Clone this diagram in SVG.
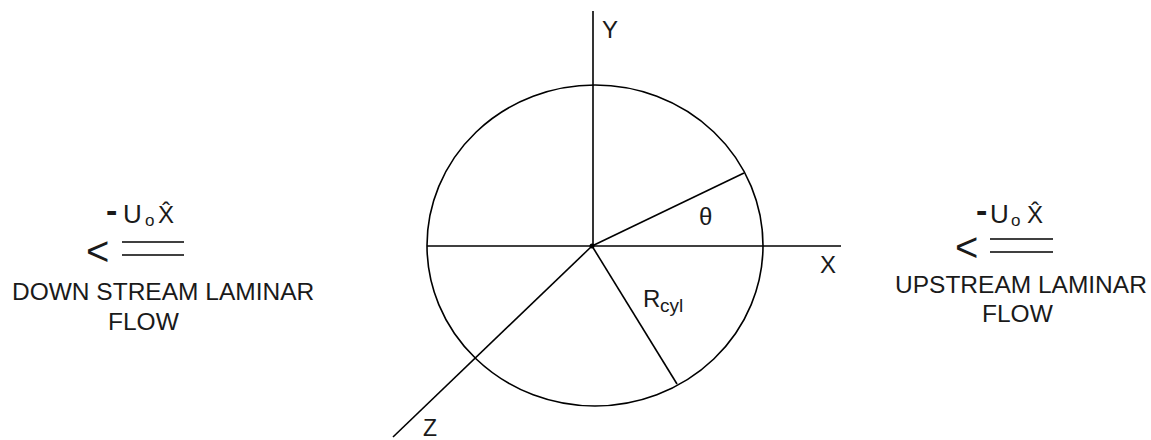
<svg xmlns="http://www.w3.org/2000/svg" width="1151" height="440" viewBox="0 0 1151 440">
<style>
.ln{stroke:#000;stroke-width:1.6;fill:none}
.t{font-family:"Liberation Sans",Arial,sans-serif;fill:#1a1a1a}
.lab{font-size:24.5px}
.ax{font-size:24px}
.mn{font-size:34px;font-weight:bold}
.lt{font-size:40px}
</style>
<rect width="1151" height="440" fill="#fff"/>
<g id="cylinder">
<ellipse class="ln" cx="595" cy="245.5" rx="168" ry="160.5"/>
</g>
<g id="connectors">
<line class="ln" x1="593" y1="11" x2="593" y2="246"/>
<line class="ln" x1="427" y1="246" x2="841" y2="246"/>
<line class="ln" x1="592" y1="246" x2="393" y2="437"/>
<line class="ln" x1="592" y1="246" x2="744" y2="173"/>
<line class="ln" x1="592" y1="246" x2="677" y2="384"/>
<circle cx="592" cy="246" r="2.5" fill="#000"/>
</g>
<g id="axis-labels" class="t ax">
<text x="602" y="38">Y</text>
<text x="820" y="273">X</text>
<text x="423" y="436" font-size="23">Z</text>
<text x="699" y="225">θ</text>
<text x="643" y="307">R</text>
<text x="660" y="312" font-size="19">cyl</text>
</g>
<g id="downstream" class="t">
<text class="mn" x="106" y="222">-</text>
<text x="123" y="223" font-size="26">U</text>
<text x="145" y="226" font-size="17">o</text>
<text x="158" y="223" font-size="24">X̂</text>
<text class="lt" x="86" y="265">&lt;</text>
<line class="ln" x1="122" y1="242" x2="184" y2="242"/>
<line class="ln" x1="122" y1="255" x2="184" y2="255"/>
<text class="lab" x="12" y="300">DOWN STREAM LAMINAR</text>
<text class="lab" x="108" y="330">FLOW</text>
</g>
<g id="upstream" class="t">
<text class="mn" x="976" y="222">-</text>
<text x="990" y="223" font-size="26">U</text>
<text x="1011" y="226" font-size="17">o</text>
<text x="1027" y="223" font-size="24">X̂</text>
<text class="lt" x="955" y="261">&lt;</text>
<line class="ln" x1="990" y1="239" x2="1053" y2="239"/>
<line class="ln" x1="990" y1="252" x2="1053" y2="252"/>
<text class="lab" x="895" y="293">UPSTREAM LAMINAR</text>
<text class="lab" x="982" y="322">FLOW</text>
</g>
</svg>
